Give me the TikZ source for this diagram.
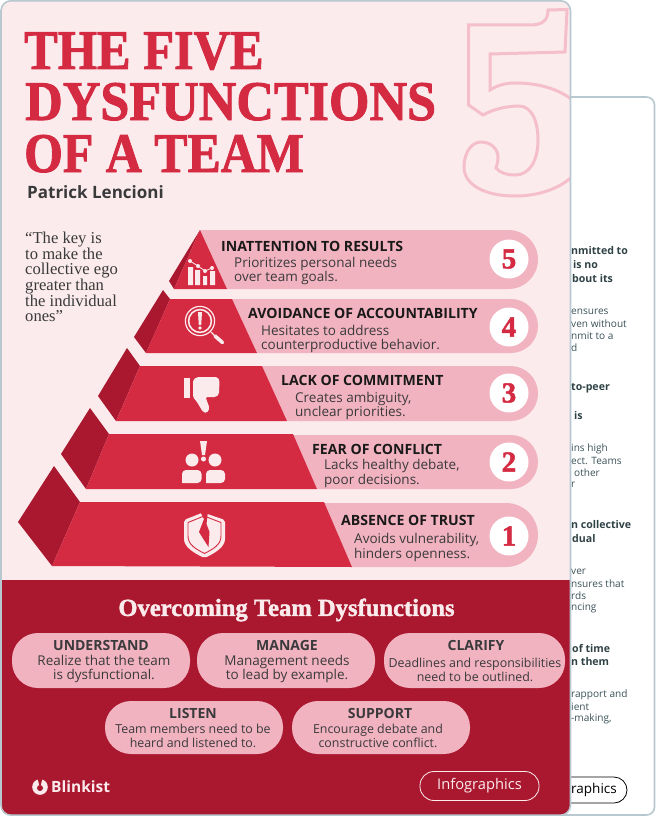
\documentclass[tikz,border=0pt]{standalone}
\usepackage{fontspec}
\setmainfont{Liberation Serif}
\setsansfont{Open Sans}
\newfontfamily\headfont[BoldFeatures={FakeBold=1.6}]{Liberation Serif}
\definecolor{page-pale}{HTML}{FBEBEC}
\definecolor{page-red}{HTML}{D42B43}
\definecolor{page-dark}{HTML}{AA1830}
\definecolor{page-pink}{HTML}{F2B3C0}
\definecolor{page-edge}{HTML}{B8C8D0}
\definecolor{page-line}{HTML}{F4BFCB}
\definecolor{page-ink}{HTML}{3A3A3C}
\definecolor{back-ink}{HTML}{3C5258}
\tikzset{
    card-box/.style = {draw=page-edge, line width=1.6pt, rounded corners=10pt},
    tier-side/.style = {fill=page-dark},
    tier-front/.style = {fill=page-red},
    tier-band/.style = {fill=page-pink},
    tier-mark/.style = {circle, fill=white, minimum size=39pt, inner sep=0pt, text=page-red, font=\headfont\bfseries\fontsize{29}{29}\selectfont},
    tier-title/.style = {anchor=west, inner sep=0pt, text=black!90, font=\sffamily\bfseries\fontsize{14.1}{14.1}\selectfont},
    tier-text/.style = {anchor=north west, inner sep=0pt, align=left, text=page-ink, font=\sffamily\fontsize{13.5}{14.2}\selectfont},
    head-line/.style = {anchor=base west, inner sep=0pt, text=page-red, font=\headfont\bfseries\fontsize{56}{56}\selectfont},
    fix-box/.style = {fill=page-pink, rounded corners=26pt},
    fix-title/.style = {anchor=center, inner sep=0pt, text=page-ink, font=\sffamily\bfseries\fontsize{14}{14}\selectfont},
    fix-text/.style = {anchor=center, inner sep=0pt, align=center, text=page-ink, font=\sffamily\fontsize{13.5}{14.2}\selectfont},
    fix-small/.style = {fix-text, font=\sffamily\fontsize{12.4}{14.2}\selectfont},
    back-bold/.style = {anchor=west, inner sep=0pt, text=back-ink!80!black, font=\sffamily\bfseries\fontsize{10.6}{10.6}\selectfont},
    back-text/.style = {anchor=west, inner sep=0pt, text=back-ink, font=\sffamily\fontsize{10.1}{10.1}\selectfont},
    icon-fill/.style = {fill=page-pale, draw=none},
}

\begin{document}
\begin{tikzpicture}[x=1pt, y=-1pt]
\useasboundingbox (0,0) rectangle (656,816);

% card behind
\draw[card-box, fill=white, rounded corners=8pt] (500,97) rectangle (654.5,815);
\node[back-bold] (backa) at (571,251) {nmitted to};
\node[back-bold] (backb) at (573,265) {is no};
\node[back-bold] (backc) at (572,279) {bout its};
\node[back-text] (backd) at (571,312) {ensures};
\node[back-text] (backe) at (571,324) {ven without};
\node[back-text] (backf) at (571,336) {nmit to a};
\node[back-text] (backg) at (571,348) {d};
\node[back-bold] (backh) at (571,388) {to-peer};
\node[back-bold] (backi) at (574,416) {is};
\node[back-text] (backj) at (571,449) {ins high};
\node[back-text] (backk) at (571,461) {ect. Teams};
\node[back-text] (backl) at (574,473) {other};
\node[back-text] (backm) at (571,485) {r};
\node[back-bold] (backn) at (571,525) {n collective};
\node[back-bold] (backo) at (572,539) {dual};
\node[back-text] (backp) at (571,572) {ver};
\node[back-text] (backq) at (571,584) {nsures that};
\node[back-text] (backr) at (571,596) {rds};
\node[back-text] (backs) at (571,608) {ncing};
\node[back-bold] (backt) at (572,648) {of time};
\node[back-bold] (backu) at (571,662) {n them};
\node[back-text] (backv) at (571,695) {rapport and};
\node[back-text] (backw) at (571,707) {ient};
\node[back-text] (backx) at (571,719) {-making,};
\draw[black, line width=0.8pt, rounded corners=13pt] (500,777) rectangle (627,803);
\node[anchor=west, inner sep=0pt, text=black, font=\sffamily\fontsize{13.5}{13.5}\selectfont] (backy) at (571,790) {raphics};

% front card
\fill[page-pale, rounded corners=10pt] (1,0.8) rectangle (570.5,815.2);
\begin{scope}
\clip[rounded corners=10pt] (1,0.8) rectangle (570.5,815.2);
\fill[page-dark] (0,580) rectangle (572,816);
\draw[page-line, line width=3pt, line join=miter]
    (468.6,25) -- (530,25) .. controls (543,25) and (548,20) .. (548,10) -- (567,9.5) -- (565,52) -- (490,54) -- (490,90)
    .. controls (498,85) and (506,83) .. (515,83) .. controls (560,83) and (590,105) .. (590,135)
    .. controls (590,175) and (555,196) .. (515,196) .. controls (485,196) and (464,185) .. (464,167)
    .. controls (464,152) and (472,142) .. (481,142) .. controls (492,142) and (498,150) .. (498,157)
    .. controls (498,162) and (497,165) .. (496,168) .. controls (500,173) and (507,175) .. (515,175)
    .. controls (530,175) and (538,160) .. (538,140) .. controls (538,120) and (531,106) .. (519,106)
    .. controls (505,106) and (492,110) .. (483,115) -- (468.6,105) -- cycle;
\end{scope}
\draw[card-box] (1,0.8) rectangle (570.5,815.2);

% heading
\node[head-line, xscale=0.90] (headone) at (24,69) {THE FIVE};
\node[head-line, xscale=0.93] (headtwo) at (25,120) {DYSFUNCTIONS};
\node[head-line, xscale=0.89] (headthree) at (24,172) {OF A TEAM};
\node[anchor=west, inner sep=0pt, text=page-ink, font=\sffamily\bfseries\fontsize{17}{17}\selectfont] (author) at (27,192.5) {Patrick Lencioni};
\node[anchor=north west, inner sep=0pt, align=left, text=page-ink, font=\fontsize{16.6}{15.6}\selectfont] (quote) at (25,232) {“The key is\\to make the\\collective ego\\greater than\\the individual\\ones”};

% pyramid, top to bottom
\fill[tier-band] (200,230) -- (509,230) [rounded corners=29.5pt] -- (538,230) -- (538,289) [sharp corners] -- (227,289) -- cycle;
\fill[tier-side] (200,230) -- (169,281) -- (174,289) -- cycle;
\fill[tier-front] (200,230) -- (227,289) -- (174,289) -- cycle;
\node[tier-mark] (markfive) at (509,259) {5};
\node[tier-title] (titlefive) at (221,246) {INATTENTION TO RESULTS};
\node[tier-text] (textfive) at (234,257) {Prioritizes personal needs\\over team goals.};

\fill[tier-band] (232,299) -- (500,299) [rounded corners=27pt] -- (538,299) -- (538,353) [sharp corners] -- (257,353) -- cycle;
\fill[tier-side] (163,290) -- (134,337) -- (146,353) -- (170,299) -- cycle;
\fill[tier-front] (170,299) -- (232,299) -- (257,353) -- (146,353) -- cycle;
\node[tier-mark] (markfour) at (509,327) {4};
\node[tier-title] (titlefour) at (248,313) {AVOIDANCE OF ACCOUNTABILITY};
\node[tier-text] (textfour) at (261,325) {Hesitates to address\\counterproductive behavior.};

\fill[tier-band] (262,366) -- (500,366) [rounded corners=27.5pt] -- (538,366) -- (538,421) [sharp corners] -- (287,421) -- cycle;
\fill[tier-side] (127,348) -- (98,396) -- (116,421) -- (140,366) -- cycle;
\fill[tier-front] (140,366) -- (262,366) -- (287,421) -- (116,421) -- cycle;
\node[tier-mark] (markthree) at (509,393) {3};
\node[tier-title] (titlethree) at (281,380) {LACK OF COMMITMENT};
\node[tier-text] (textthree) at (295,392) {Creates ambiguity,\\unclear priorities.};

\fill[tier-band] (293,435) -- (500,435) [rounded corners=27pt] -- (538,435) -- (538,489) [sharp corners] -- (317,489) -- cycle;
\fill[tier-side] (90,408) -- (61,454) -- (86,489) -- (109,434) -- cycle;
\fill[tier-front] (109,434) -- (293,434) -- (317,489) -- (86,489) -- cycle;
\node[tier-mark] (marktwo) at (509,462) {2};
\node[tier-title] (titletwo) at (312,449) {FEAR OF CONFLICT};
\node[tier-text] (texttwo) at (324,459.5) {Lacks healthy debate,\\poor decisions.};

\fill[tier-band] (324,503) -- (500,503) [rounded corners=32pt] -- (538,503) -- (538,567) [sharp corners] -- (352,567) -- cycle;
\fill[tier-side] (54,466) -- (18,522) -- (52,566) -- (80,502) -- cycle;
\fill[tier-front] (80,502) -- (324,502) -- (352,567) -- (52,566) -- cycle;
\node[tier-mark] (markone) at (509,536) {1};
\node[tier-title] (titleone) at (341,520) {ABSENCE OF TRUST};
\node[tier-text] (textone) at (354,533.5) {Avoids vulnerability,\\hinders openness.};

% chart icon
\fill[icon-fill] (188,267) rectangle (193,285) (195,270) rectangle (200,285) (203,276) rectangle (207,285) (210,271) rectangle (215,285);
\draw[page-pale, line width=0.8pt] (190,261) -- (198,266) -- (205,271) -- (212,268);
\fill[icon-fill] (190,261) circle (2) (198,266) circle (2) (205,271) circle (2) (212,268) circle (2);

% magnifier icon
\draw[page-pale, line width=1.2pt] (200,321) circle (14.6);
\draw[page-pale, line width=1.6pt] (200,321) circle (11.4);
\fill[icon-fill] (198,312) -- (202,312) -- (201.2,325) -- (198.8,325) -- cycle;
\fill[icon-fill] (200,328) circle (1.9);
\draw[page-pale, line width=1.4pt] (211,332) -- (214,335);
\draw[page-pale, line width=3.6pt, line cap=round] (215,336) -- (222.5,342.5);

% thumb icon
\fill[icon-fill] (184,378) rectangle (189.5,398);
\fill[icon-fill, rounded corners=1.5pt] (193,380) -- (197,377) -- (217,377) -- (219.5,380) -- (219,394) -- (216,397) -- (205.5,397) -- (209.5,408) -- (207,413) -- (203,412) -- (197,402) -- (193,397) -- cycle;

% people icon
\fill[icon-fill] (200,441) -- (207,441) -- (205,455) -- (202,455) -- cycle;
\fill[icon-fill] (203.5,459) circle (2.5);
\fill[icon-fill] (192,460) circle (6.5) (215,460) circle (6.5);
\fill[icon-fill, rounded corners=4pt] (182,483) -- (182,470) -- (201.5,470) -- (201.5,483) [sharp corners] -- cycle;
\fill[icon-fill, rounded corners=4pt] (206,483) -- (206,470) -- (225,470) -- (225,483) [sharp corners] -- cycle;

% shield icon
\fill[icon-fill, rounded corners=2pt] (184,520) -- (203,512.5) -- (225,520) -- (225,537) .. controls (225,547) and (215,553) .. (204.5,558) .. controls (194,553) and (184,547) .. (184,537) -- cycle;
\draw[page-red, line width=0.9pt] (188,522.5) -- (204,516) -- (221,522.5) -- (221,536) .. controls (221,545) and (213,549) .. (204.5,553.5) .. controls (196,549) and (188,545) .. (188,536) -- cycle;
\fill[page-red] (200,511) -- (208,511) -- (206.5,524) -- (209.5,532) -- (208.5,547) -- (204,540) -- (199,532) -- (204,519) -- cycle;

% lower part
\node[anchor=center, inner sep=0pt, text=page-pale, font=\headfont\bfseries\fontsize{24.6}{24.6}\selectfont] (fixhead) at (286.5,610) {Overcoming Team Dysfunctions};

\fill[fix-box] (12,633) rectangle (190,688);
\node[fix-title] (titleunderstand) at (101,645.5) {UNDERSTAND};
\node[fix-text] (textunderstand) at (104,669) {Realize that the team\\is dysfunctional.};

\fill[fix-box] (197,633) rectangle (375,688);
\node[fix-title] (titlemanage) at (287,645.5) {MANAGE};
\node[fix-text] (textmanage) at (287,669) {Management needs\\to lead by example.};

\fill[fix-box] (384,633) rectangle (565,688);
\node[fix-title] (titleclarify) at (476,645.5) {CLARIFY};
\node[fix-small] (textclarify) at (475,670) {Deadlines and responsibilities\\need to be outlined.};

\fill[fix-box] (105,701) rectangle (283,754);
\node[fix-title] (titlelisten) at (193,713.5) {LISTEN};
\node[fix-small] (textlisten) at (193,735.5) {Team members need to be\\heard and listened to.};

\fill[fix-box] (292,701) rectangle (470,754);
\node[fix-title] (titlesupport) at (380,713.5) {SUPPORT};
\node[fix-small] (textsupport) at (378,735.5) {Encourage debate and\\constructive conflict.};

% logo and tag
\fill[icon-fill] (40,787) circle (7.8);
\fill[page-dark] (40,788) circle (3);
\fill[page-dark] (37.5,778) -- (42.5,778) -- (40.8,785) -- (39.2,785) -- cycle;
\node[anchor=west, inner sep=0pt, text=page-pale, font=\sffamily\bfseries\fontsize{15.5}{15.5}\selectfont] (brand) at (51,787) {Blinkist};
\node[draw=page-pale, line width=0.8pt, rounded corners=14pt, minimum width=119pt, minimum height=29pt, inner sep=0pt, text=page-pale, font=\sffamily\fontsize{14.7}{14.7}\selectfont] (tag) at (479.5,786) {Infographics};
\end{tikzpicture}
\end{document}
